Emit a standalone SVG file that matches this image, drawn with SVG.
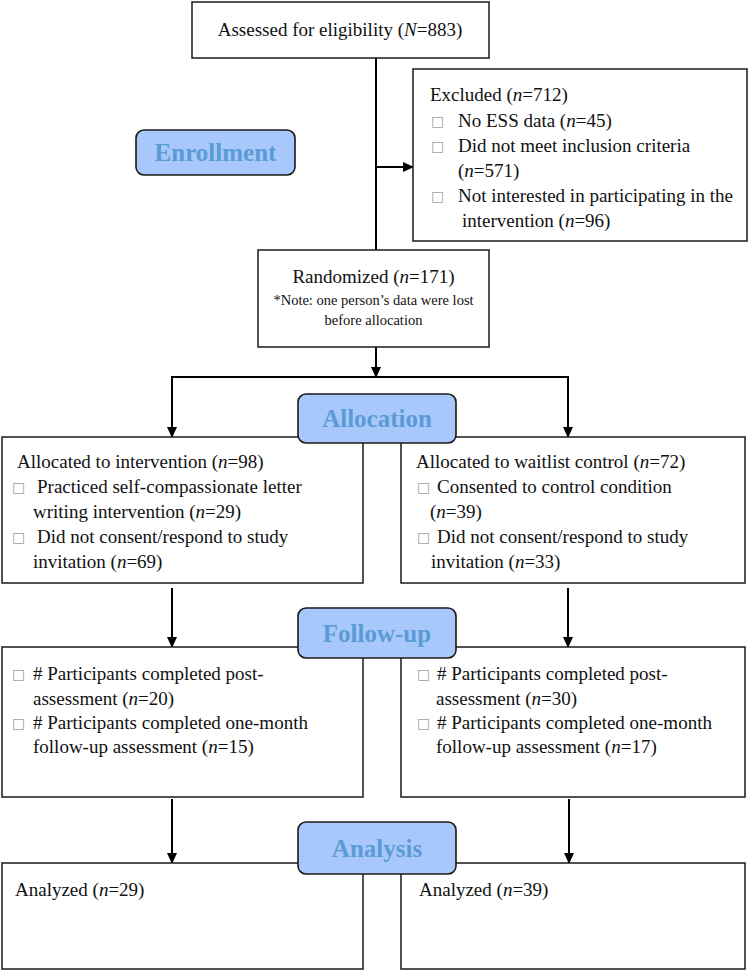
<svg xmlns="http://www.w3.org/2000/svg" width="750" height="971" viewBox="0 0 750 971">
<style>
  .box { fill: #ffffff; stroke: #1a1a1a; stroke-width: 1.5; }
  .stage { fill: #a8c8fb; stroke: #1a1a1a; stroke-width: 1.6; }
  .t { font-family: "Liberation Serif", "Times New Roman", serif; font-size: 19px; fill: #111; }
  .note { font-family: "Liberation Serif", "Times New Roman", serif; font-size: 14.5px; fill: #111; }
  .st { font-family: "Liberation Serif", "Times New Roman", serif; font-size: 25px; font-weight: bold; fill: #5b9bd5; text-anchor: middle; }
  .b { font-family: "DejaVu Sans", sans-serif; font-size: 14px; fill: #a0a0a0; }
  .i { font-style: italic; }
  .c { text-anchor: middle; }
  .ln { stroke: #000; stroke-width: 2; fill: none; }
</style>
<defs>
  <marker id="ah" markerWidth="11" markerHeight="10" refX="10" refY="5" orient="auto" markerUnits="userSpaceOnUse">
    <path d="M0,0 L11,5 L0,10 Z" fill="#000"/>
  </marker>
</defs>

<g id="connectors">
  <line class="ln" x1="376" y1="58" x2="376" y2="250"/>
  <line class="ln" x1="376" y1="167" x2="413" y2="167" marker-end="url(#ah)"/>
  <line class="ln" x1="376" y1="347" x2="376" y2="377" marker-end="url(#ah)"/>
  <polyline class="ln" points="172,437 172,377 568,377 568,437"/>
  <line class="ln" x1="172" y1="377" x2="172" y2="437" marker-end="url(#ah)"/>
  <line class="ln" x1="568" y1="377" x2="568" y2="437" marker-end="url(#ah)"/>
  <line class="ln" x1="172" y1="588" x2="172" y2="647" marker-end="url(#ah)"/>
  <line class="ln" x1="568" y1="588" x2="568" y2="647" marker-end="url(#ah)"/>
  <line class="ln" x1="172" y1="799" x2="172" y2="863" marker-end="url(#ah)"/>
  <line class="ln" x1="569" y1="799" x2="569" y2="863" marker-end="url(#ah)"/>
</g>

<g id="assessed">
  <rect class="box" x="192" y="2" width="297" height="56"/>
  <text class="t c" x="340" y="36">Assessed for eligibility (<tspan class="i">N</tspan>=883)</text>
</g>

<g id="excluded">
  <rect class="box" x="413" y="69" width="334" height="172"/>
  <text class="t" x="430" y="101">Excluded (<tspan class="i">n</tspan>=712)</text>
  <text class="b" x="431" y="126">□</text>
  <text class="t" x="458" y="127">No ESS data (<tspan class="i">n</tspan>=45)</text>
  <text class="b" x="431" y="151">□</text>
  <text class="t" x="458" y="152">Did not meet inclusion criteria</text>
  <text class="t" x="458" y="177">(<tspan class="i">n</tspan>=571)</text>
  <text class="b" x="431" y="201">□</text>
  <text class="t" x="458" y="202">Not interested in participating in the</text>
  <text class="t" x="462" y="227">intervention (<tspan class="i">n</tspan>=96)</text>
</g>

<g id="enrollment">
  <rect class="stage" x="136" y="130" width="159" height="45" rx="8"/>
  <text class="st" x="215.5" y="161">Enrollment</text>
</g>

<g id="randomized">
  <rect class="box" x="258" y="250" width="231" height="97"/>
  <text class="t c" x="373.5" y="283">Randomized (<tspan class="i">n</tspan>=171)</text>
  <text class="note c" x="373.5" y="305">*Note: one person’s data were lost</text>
  <text class="note c" x="373.5" y="325">before allocation</text>
</g>

<g id="alloc-left">
  <rect class="box" x="2" y="437" width="361" height="146"/>
  <text class="t" x="17" y="468">Allocated to intervention (<tspan class="i">n</tspan>=98)</text>
  <text class="b" x="12" y="492">□</text>
  <text class="t" x="37" y="493">Practiced self-compassionate letter</text>
  <text class="t" x="33" y="518">writing intervention (<tspan class="i">n</tspan>=29)</text>
  <text class="b" x="12" y="542">□</text>
  <text class="t" x="37" y="543">Did not consent/respond to study</text>
  <text class="t" x="33" y="568">invitation (<tspan class="i">n</tspan>=69)</text>
</g>

<g id="alloc-right">
  <rect class="box" x="401" y="437" width="344" height="146"/>
  <text class="t" x="416" y="468">Allocated to waitlist control (<tspan class="i">n</tspan>=72)</text>
  <text class="b" x="417" y="492">□</text>
  <text class="t" x="437" y="493">Consented to control condition</text>
  <text class="t" x="430" y="518">(<tspan class="i">n</tspan>=39)</text>
  <text class="b" x="417" y="542">□</text>
  <text class="t" x="437" y="543">Did not consent/respond to study</text>
  <text class="t" x="431" y="568">invitation (<tspan class="i">n</tspan>=33)</text>
</g>

<g id="allocation">
  <rect class="stage" x="298" y="394" width="158" height="49" rx="8"/>
  <text class="st" x="377" y="427">Allocation</text>
</g>

<g id="follow-left">
  <rect class="box" x="2" y="647" width="361" height="150"/>
  <text class="b" x="12" y="679">□</text>
  <text class="t" x="33" y="680"># Participants completed post-</text>
  <text class="t" x="33" y="705">assessment (<tspan class="i">n</tspan>=20)</text>
  <text class="b" x="12" y="728">□</text>
  <text class="t" x="33" y="729"># Participants completed one-month</text>
  <text class="t" x="33" y="753">follow-up assessment (<tspan class="i">n</tspan>=15)</text>
</g>

<g id="follow-right">
  <rect class="box" x="401" y="647" width="344" height="150"/>
  <text class="b" x="417" y="679">□</text>
  <text class="t" x="437" y="680"># Participants completed post-</text>
  <text class="t" x="436" y="705">assessment (<tspan class="i">n</tspan>=30)</text>
  <text class="b" x="417" y="728">□</text>
  <text class="t" x="437" y="729"># Participants completed one-month</text>
  <text class="t" x="436" y="753">follow-up assessment (<tspan class="i">n</tspan>=17)</text>
</g>

<g id="followup">
  <rect class="stage" x="298" y="608" width="158" height="50" rx="8"/>
  <text class="st" x="377" y="642">Follow-up</text>
</g>

<g id="analysis-left">
  <rect class="box" x="2" y="863" width="361" height="106"/>
  <text class="t" x="15" y="896">Analyzed (<tspan class="i">n</tspan>=29)</text>
</g>

<g id="analysis-right">
  <rect class="box" x="401" y="863" width="344" height="106"/>
  <text class="t" x="419" y="896">Analyzed (<tspan class="i">n</tspan>=39)</text>
</g>

<g id="analysis">
  <rect class="stage" x="298" y="822" width="158" height="52" rx="8"/>
  <text class="st" x="377" y="857">Analysis</text>
</g>
</svg>
